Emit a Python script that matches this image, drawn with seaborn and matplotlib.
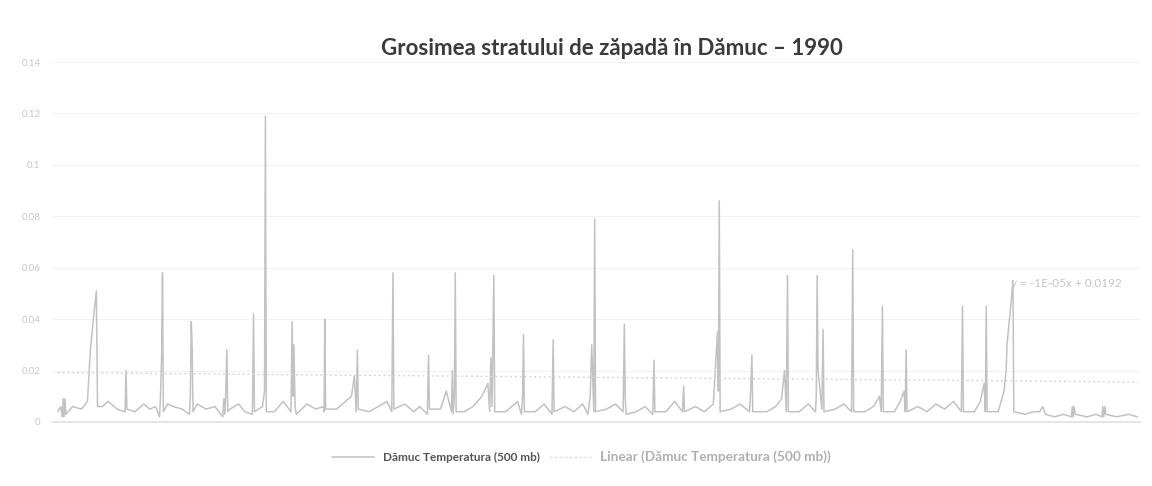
import matplotlib
matplotlib.use("Agg")
import matplotlib.pyplot as plt
import seaborn as sns
import numpy as np
import pandas as pd

# Snow depth at Dămuc in 1990: observation time (day of year) and depth (m)
zile = [
    1, 2, 2.5, 2.8, 3.1, 3.4, 3.7, 6, 9, 11, 12, 13, 14, 14.4, 16, 18, 21, 23.7, 24, 24.3, 27, 30,
    32, 34, 35.3, 35.6, 36, 36.3, 36.6, 38, 40, 43, 45.4, 45.7, 46, 46.3, 46.6, 48, 51, 54, 56.6, 57, 57.3, 57.6, 58, 58.3, 59,
    62, 64, 66.6, 67, 67.3, 70, 70.7, 71, 71.3, 74, 77, 79.6, 80, 80.3, 80.6, 81, 81.4, 85, 88, 90.5,
    90.8, 91, 91.3, 95, 98, 100, 101, 101.6, 102, 102.3, 106, 109, 112, 113.6, 114, 114.3, 118,
    121, 123, 125.6, 126, 126.3, 130, 132, 133.7, 134, 134.3, 134.7, 135, 135.3, 138, 141, 144, 146, 146.6, 147, 147.4, 148, 148.3, 152,
    154, 156, 157.3, 157.7, 158, 158.3, 162, 165, 167.6, 168, 168.3, 172, 175, 178,
    179.7, 180.5, 181, 181.7, 182, 182.3, 186, 189, 191.6, 192, 192.3, 192.6, 196, 199, 201.6, 202, 202.3, 206, 209, 211.6, 212, 212.3,
    216, 219, 222, 223.4, 223.7, 224, 224.3, 228, 231, 234.2, 234.6, 235, 235.3, 240, 243,
    245, 246, 246.6, 247, 247.3, 251, 254, 256.4, 256.7, 257, 257.3, 258.6, 259, 259.3, 263, 266, 268.6, 269, 269.3, 273,
    276, 278, 278.6, 279, 279.3, 283, 285, 286.3, 286.7, 287, 287.3, 291, 294, 297, 300, 303,
    305.6, 306, 306.3, 310, 312, 313.3, 313.7, 314, 314.3, 318, 320, 320.7, 321, 321.5, 322, 322.5, 323, 323.3, 327, 330,
    332, 333, 334, 337, 340, 342.7, 343, 343.3, 343.6, 344, 348, 351, 353, 353.3, 353.6, 354, 354.3, 358, 362, 365,
]
grosime = [
    .004, .006, .002, .009, .002, .009, .003, .006, .005, .008, .028, .040, .051, .006, .006, .008, .005, .004, .020, .005, .004, .007,
    .005, .006, .002, .009, .025, .058, .004, .007, .006, .005, .003, .010, .039, .029, .004, .007, .005, .006, .002, .009, .003, .010, .028, .004, .005,
    .007, .004, .003, .042, .004, .006, .012, .119, .004, .004, .008, .004, .039, .010, .030, .006, .003, .007, .005, .006,
    .004, .040, .005, .005, .008, .010, .018, .004, .028, .005, .004, .006, .008, .004, .058, .005, .007,
    .004, .006, .003, .026, .005, .005, .012, .004, .020, .003, .010, .058, .004, .004, .006, .010, .015, .004, .025, .006, .057, .004, .004,
    .006, .008, .003, .010, .034, .004, .004, .007, .003, .032, .004, .006, .004, .007,
    .003, .010, .030, .004, .079, .004, .005, .007, .004, .038, .009, .003, .004, .006, .003, .024, .004, .004, .008, .004, .014, .004,
    .006, .004, .007, .035, .012, .086, .004, .005, .007, .004, .012, .026, .004, .004, .006,
    .009, .020, .004, .057, .004, .004, .007, .004, .010, .057, .020, .005, .036, .004, .005, .007, .004, .067, .004, .004,
    .006, .010, .004, .045, .004, .004, .008, .012, .004, .028, .004, .006, .004, .007, .005, .008,
    .004, .045, .004, .004, .008, .015, .004, .045, .004, .004, .012, .020, .030, .036, .042, .048, .055, .004, .003, .004,
    .004, .006, .003, .002, .003, .002, .006, .002, .006, .003, .002, .003, .002, .006, .002, .006, .003, .002, .003, .002,
]

# Linear trend of the series
panta = -1e-05
interceptie = 0.0192

y_ticks = [0, 0.02, 0.04, 0.06, 0.08, 0.1, 0.12, 0.14]
y_tick_labels = ["0", "0.02", "0.04", "0.06", "0.08", "0.1", "0.12", "0.14"]

titlu = "Grosimea stratului de zăpadă în Dămuc – 1990"
serie = "Dămuc Temperatura (500 mb)"
serie_trend = "Linear (Dămuc Temperatura (500 mb))"

sns.set_theme(style="white")
plt.rcParams["font.family"] = ["Lato", "DejaVu Sans"]

df = pd.DataFrame({"zi": zile, "grosime": grosime})

fig = plt.figure(figsize=(11.52, 4.86), dpi=100)
ax = fig.add_axes([0.045, 0.1317, 0.945, 0.7407])

sns.lineplot(data=df, x="zi", y="grosime", ax=ax, color="#c2c2c2",
             linewidth=1.1, label=serie, legend=False, sort=False)

x_tr = np.array([1, 365])
trend = pd.DataFrame({"zi": x_tr, "valoare": panta * x_tr + interceptie})
sns.lineplot(data=trend, x="zi", y="valoare", ax=ax, color="#d6d6d6",
             linewidth=1.0, linestyle=(0, (1.5, 2)), label=serie_trend, legend=False)

ax.set_xlim(-1, 366)
ax.set_ylim(0, 0.14)
ax.set_yticks(y_ticks)
ax.set_yticklabels(y_tick_labels)
ax.set_xticks([])
ax.set_xlabel("")
ax.set_ylabel("")
ax.tick_params(axis="y", length=0, labelsize=7, labelcolor="#c6c6c6", pad=8)
ax.grid(axis="y", color="#f2f2f2", linewidth=0.8)
for side in ["top", "right", "left"]:
    ax.spines[side].set_visible(False)
ax.spines["bottom"].set_color("#e2e2e2")

ax.text(322.5, 0.0525, f"y = {panta:.0E}x + {interceptie:.4f}",
        fontsize=8.5, color="#c4c4c4")

fig.text(0.531, 0.90, titlu, ha="center", va="center", fontsize=16,
         fontweight="bold", color="#3a3a3a")

handles, labels = ax.get_legend_handles_labels()
leg = fig.legend(handles, labels, loc="center", bbox_to_anchor=(0.505, 0.06),
                 ncol=2, frameon=False, fontsize=8.5, handlelength=3.5,
                 columnspacing=0.8)
leg.get_texts()[0].set_color("#555555")
leg.get_texts()[0].set_fontweight("bold")
leg.get_texts()[1].set_color("#b0b0b0")
leg.get_texts()[1].set_fontweight("bold")
leg.get_texts()[1].set_fontsize(9.8)

fig.savefig("out.png", dpi=100)
